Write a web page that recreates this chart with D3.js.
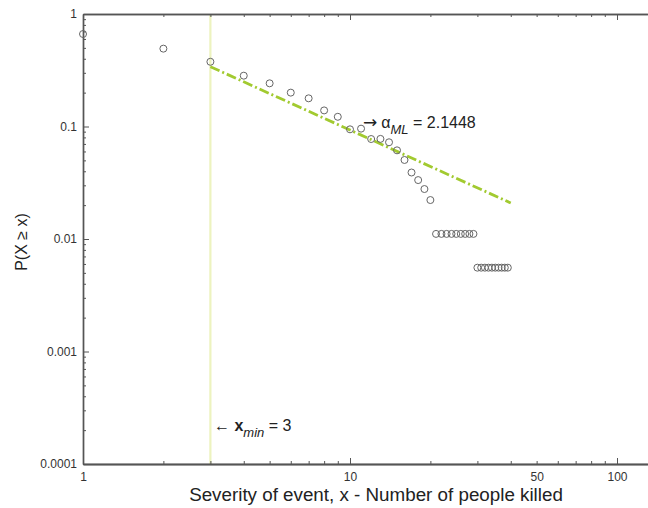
<!DOCTYPE html>
<html>
<head>
<meta charset="utf-8">
<script src="https://cdn.jsdelivr.net/npm/d3@7"></script>
<style>
  html, body { margin: 0; padding: 0; background: #fff; }
  svg { display: block; font-family: "Liberation Sans", Arial, sans-serif; }
</style>
</head>
<body>
<svg id="chart" width="648" height="508"></svg>
<script>
// Empirical complementary CDF of event severity
const severity = [1, 2, 3, 4, 5, 6, 7, 8, 9, 10, 11, 12, 13, 14, 15, 16, 17, 18, 19, 20,
  21, 22, 23, 24, 25, 26, 27, 28, 29,
  30, 31, 32, 33, 34, 35, 36, 37, 38, 39];
const ccdf = [0.664, 0.492, 0.376, 0.283, 0.242, 0.200, 0.178, 0.139, 0.122, 0.0944, 0.0957,
  0.0774, 0.0776, 0.0724, 0.0614, 0.0504, 0.0390, 0.0334, 0.0278, 0.0222,
  0.0111, 0.0111, 0.0111, 0.0111, 0.0111, 0.0111, 0.0111, 0.0111, 0.0111,
  0.00556, 0.00556, 0.00556, 0.00556, 0.00556, 0.00556, 0.00556, 0.00556, 0.00556, 0.00556];

// Fitted power-law tail (from x_min to the end of the fit)
const fitX = [3, 40];
const fitY = [0.34, 0.0209];
const xMin = 3;
const alphaML = "2.1448";

// Axis ticks
const xDomain = [1, 130];
const yDomain = [0.0001, 1];
const xLabelTicks = [1, 10, 50, 100];
const xMajorTicks = [1, 10, 100];
const yMajorTicks = [1, 0.1, 0.01, 0.001, 0.0001];

(function draw() {
  const svg = d3.select("#chart");
  const mLeft = 83, mTop = 14, mBottom = 464;

  const x = d3.scaleLog().domain(xDomain).range([mLeft, mLeft + 267 * Math.log10(xDomain[1])]);
  const y = d3.scaleLog().domain(yDomain).range([mBottom, mTop]);

  const axisColor = "#555";

  function minorTicks(lo, hi) {
    const out = [];
    for (let e = Math.floor(Math.log10(lo)); e < Math.ceil(Math.log10(hi)); e++) {
      for (let m = 2; m <= 9; m++) {
        const v = m * Math.pow(10, e);
        if (v >= lo && v <= hi) out.push(v);
      }
    }
    return out;
  }

  // x_min marker
  svg.append("line")
    .attr("x1", x(xMin)).attr("x2", x(xMin))
    .attr("y1", mTop).attr("y2", mBottom)
    .attr("stroke", "#edf3bf").attr("stroke-width", 2.2);

  // Axes
  const gLeft = svg.append("g").attr("transform", `translate(${mLeft},0)`);
  gLeft.call(d3.axisLeft(y).tickValues(yMajorTicks).tickSizeInner(-6).tickSizeOuter(0).tickPadding(6)
    .tickFormat(d => String(+d.toPrecision(1))));
  gLeft.append("g").call(d3.axisLeft(y).tickValues(minorTicks(1e-4, 1)).tickSizeInner(-3).tickSizeOuter(0).tickFormat(""));

  const gBottom = svg.append("g").attr("transform", `translate(0,${mBottom})`);
  gBottom.call(d3.axisBottom(x).tickValues(xLabelTicks).tickSize(0).tickPadding(8)
    .tickFormat(d3.format("d")));
  gBottom.append("g").call(d3.axisBottom(x).tickValues(xMajorTicks).tickSizeInner(-6).tickSizeOuter(0).tickFormat(""));
  gBottom.append("g").call(d3.axisBottom(x).tickValues(minorTicks(1, xDomain[1])).tickSizeInner(-3).tickSizeOuter(0).tickFormat(""));

  const gTop = svg.append("g").attr("transform", `translate(0,${mTop})`);
  gTop.append("g").call(d3.axisTop(x).tickValues(xMajorTicks).tickSizeInner(-6).tickSizeOuter(0).tickFormat(""));
  gTop.append("g").call(d3.axisTop(x).tickValues(minorTicks(1, xDomain[1])).tickSizeInner(-3).tickSizeOuter(0).tickFormat(""));

  svg.selectAll(".domain").attr("stroke", axisColor).attr("stroke-width", 1.4);
  svg.selectAll(".tick line").attr("stroke", axisColor);
  svg.selectAll(".tick text").attr("fill", "#333").style("font-size", "12px")
    .style("font-family", "'Liberation Sans', Arial, sans-serif");

  // Fit line
  svg.append("line")
    .attr("x1", x(fitX[0])).attr("y1", y(fitY[0]))
    .attr("x2", x(fitX[1])).attr("y2", y(fitY[1]))
    .attr("stroke", "#a2ca30").attr("stroke-width", 2.8)
    .attr("stroke-dasharray", "10,3,2,3");

  // Data points
  svg.append("g").selectAll("circle")
    .data(severity.map((s, i) => [s, ccdf[i]]))
    .join("circle")
    .attr("cx", d => x(d[0])).attr("cy", d => y(d[1]))
    .attr("r", 3.5)
    .attr("fill", "none").attr("stroke", "#666").attr("stroke-width", 1);

  // Annotations
  const alphaText = svg.append("text").attr("x", 363).attr("y", 128)
    .attr("fill", "#222").style("font-size", "16px");
  alphaText.append("tspan").style("font-family", "'DejaVu Sans', sans-serif").style("font-size", "17px").text("\u2192");
  alphaText.append("tspan").attr("dx", 4).text("\u03b1");
  alphaText.append("tspan").attr("dy", 6).style("font-size", "13px").style("font-style", "italic").text("ML");
  alphaText.append("tspan").attr("dy", -6).text(" = " + alphaML);

  const xminText = svg.append("text").attr("x", 214).attr("y", 431)
    .attr("fill", "#222").style("font-size", "16px");
  xminText.append("tspan").text("\u2190 ");
  xminText.append("tspan").style("font-weight", "bold").text("x");
  xminText.append("tspan").attr("dy", 6).style("font-size", "13px").style("font-style", "italic").text("min");
  xminText.append("tspan").attr("dy", -6).text(" = " + xMin);

  // Axis titles
  svg.append("text").attr("x", 376).attr("y", 501)
    .attr("text-anchor", "middle").attr("fill", "#222").style("font-size", "18.8px")
    .text("Severity of event, x - Number of people killed");

  svg.append("text")
    .attr("transform", "translate(27,242) rotate(-90)")
    .attr("text-anchor", "middle").attr("fill", "#222").style("font-size", "16px")
    .text("P(X \u2265 x)");
})();
</script>
</body>
</html>
